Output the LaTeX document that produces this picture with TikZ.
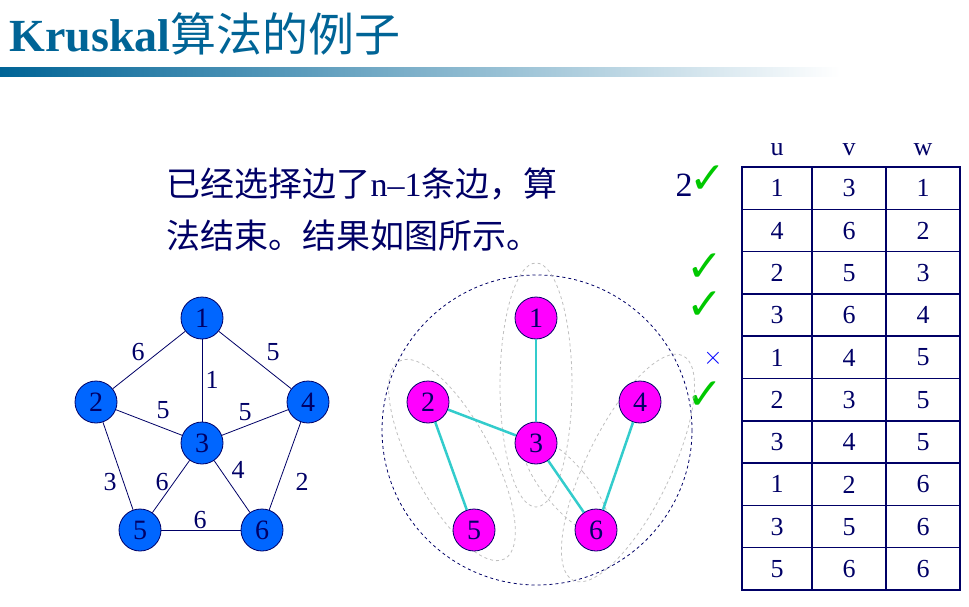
\documentclass[tikz,border=0pt]{standalone}
\usepackage{fontspec}
\setmainfont{Liberation Serif}
\newfontfamily\cjk{Noto Sans CJK SC}
\newfontfamily\sym{DejaVu Sans}
\definecolor{navy}{RGB}{0,0,102}
\definecolor{titleblue}{RGB}{0,100,150}
\definecolor{nodeblue}{RGB}{0,102,255}
\definecolor{edgecyan}{RGB}{51,204,204}
\definecolor{tickgreen}{RGB}{0,200,0}
\definecolor{pink}{RGB}{255,0,255}

\tikzset{
  vtx/.style={circle, draw=navy, thick, minimum size=42pt, inner sep=0pt, font=\fontsize{28}{28}\selectfont, text=navy},
  bv/.style={vtx, fill=nodeblue},
  mv/.style={vtx, fill=pink},
  ed/.style={navy, line width=0.8pt},
  tr/.style={edgecyan, line width=2.5pt},
  wt/.style={font=\fontsize{26}{26}\selectfont, text=navy},
  grp/.style={gray!50, dashed, line width=0.8pt},
  tk/.style={font=\sym\fontsize{44}{44}\selectfont, text=tickgreen},
  txt/.style={anchor=base west, text=navy, font=\fontsize{34}{34}\selectfont},
}

\begin{document}
\begin{tikzpicture}[x=1pt,y=-1pt]
  \useasboundingbox (0,0) rectangle (969,607);

  % title
  \node[anchor=base west, text=titleblue, font=\fontsize{46}{46}\selectfont\bfseries] (title) at (6,52) {Kruskal{\cjk\mdseries 算法的例子}};
  \shade[left color=titleblue, right color=white] (0,68) rectangle (840,77);

  % text
  \node[txt] (l1) at (163,196) {{\cjk 已经选择边了}n–1{\cjk 条边，算}};
  \node[txt] (l2) at (163,248) {\cjk 法结束。结果如图所示。};
  \node[txt] (two) at (672,196) {2};

  % ticks
  \node[tk] (t1) at (708,180) {✓};
  \node[tk] (t3) at (705,268) {✓};
  \node[tk] (t4) at (705,306) {✓};
  \node[text=blue, font=\fontsize{60}{60}\selectfont] (x5) at (713,358) {$\times$};
  \node[tk] (t6) at (705,396) {✓};

  % table
  \foreach \h/\x in {u/777, v/849, w/923}
    \node[wt] (h\h) at (\x,150) {\h};
  \draw[navy, line width=2pt] (742,167) rectangle (960,590);
  \foreach \x in {812,886}
    \draw[navy, line width=1.5pt] (\x,167) -- (\x,590);
  \foreach \i in {1,...,9}
    \draw[navy, line width=1.5pt] (742,167+42.3*\i) -- (960,167+42.3*\i);
  \foreach \u/\v/\w [count=\i] in {1/3/1,4/6/2,2/5/3,3/6/4,1/4/5,2/3/5,3/4/5,1/2/6,3/5/6,5/6/6} {
    \node[wt] (u\i) at (777,146+42.3*\i) {\u};
    \node[wt] (v\i) at (849,146+42.3*\i) {\v};
    \node[wt] (w\i) at (923,146+42.3*\i) {\w};
  }

  % left graph
  \node[bv] (a1) at (202,318) {1};
  \node[bv] (a2) at (96,402) {2};
  \node[bv] (a4) at (308,402) {4};
  \node[bv] (a3) at (202,443) {3};
  \node[bv] (a5) at (140,530) {5};
  \node[bv] (a6) at (262,530) {6};
  \draw[ed] (a1) -- (a2);
  \draw[ed] (a1) -- (a4);
  \draw[ed] (a1) -- (a3);
  \draw[ed] (a2) -- (a3);
  \draw[ed] (a4) -- (a3);
  \draw[ed] (a2) -- (a5);
  \draw[ed] (a3) -- (a5);
  \draw[ed] (a3) -- (a6);
  \draw[ed] (a4) -- (a6);
  \draw[ed] (a5) -- (a6);
  \node[wt] (e12) at (138,352) {6};
  \node[wt] (e14) at (273,352) {5};
  \node[wt] (e13) at (212,380) {1};
  \node[wt] (e23) at (163,410) {5};
  \node[wt] (e43) at (245,412) {5};
  \node[wt] (e25) at (110,482) {3};
  \node[wt] (e35) at (162,482) {6};
  \node[wt] (e36) at (238,470) {4};
  \node[wt] (e46) at (302,482) {2};
  \node[wt] (e56) at (200,520) {6};

  % right graph
  \draw[navy, dashed, line width=0.8pt] (537,430) circle (155);
  \draw[grp] (536,385) ellipse (36 and 122);
  \draw[grp, rotate around={28:(452,460)}] (452,460) ellipse (40 and 112);
  \draw[grp, rotate around={-26:(628,468)}] (628,468) ellipse (42 and 125);
  \draw[grp, rotate around={40:(566,486)}] (566,486) ellipse (22 and 62);
  \node[mv] (b1) at (536,318) {1};
  \node[mv] (b2) at (428,402) {2};
  \node[mv] (b4) at (640,402) {4};
  \node[mv] (b3) at (536,443) {3};
  \node[mv] (b5) at (474,530) {5};
  \node[mv] (b6) at (596,530) {6};
  \draw[tr] (b1) -- (b3);
  \draw[tr] (b2) -- (b3);
  \draw[tr] (b2) -- (b5);
  \draw[tr] (b3) -- (b6);
  \draw[tr] (b4) -- (b6);
\end{tikzpicture}
\end{document}
